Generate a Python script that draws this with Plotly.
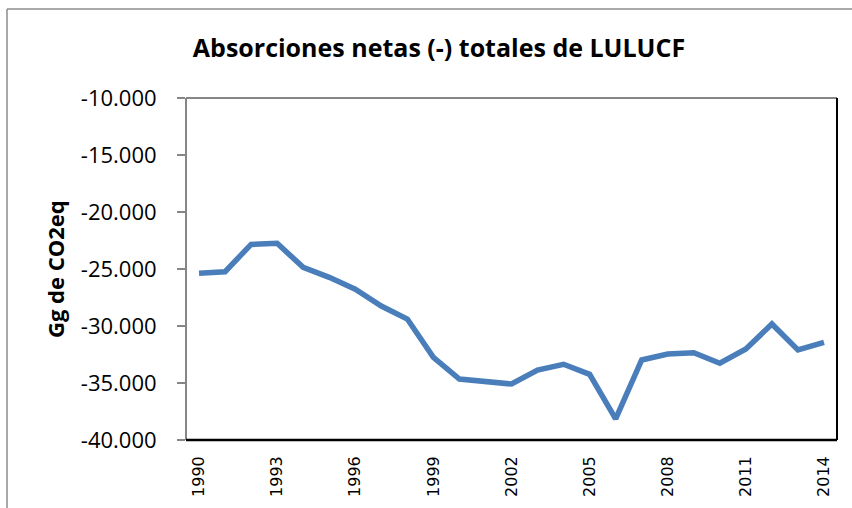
import plotly.graph_objects as go

years = list(range(1990, 2015))
values = [-25380, -25240, -22840, -22750, -24850, -25730, -26780, -28250, -29390,
          -32750, -34650, -34820, -35090, -33860, -33360, -34240, -38150, -32980,
          -32460, -32340, -33270, -32020, -29820, -32100, -31430]
y_ticks = [-40000, -35000, -30000, -25000, -20000, -15000, -10000]
y_ticklabels = ["-40.000", "-35.000", "-30.000", "-25.000", "-20.000", "-15.000", "-10.000"]
x_ticks = list(range(1990, 2015, 3))
x_ticklabels = [str(y) for y in x_ticks]

W, H = 852, 508
L, R, T, B = 186, 15, 98, 68
pw, ph = W - L - R, H - T - B

def px(xp):
    return (xp - L) / pw

def py(yp):
    return (H - B - yp) / ph

fig = go.Figure()
fig.add_trace(go.Scatter(x=years, y=values, mode="lines",
                         line=dict(color="#4a7ebb", width=5.5), showlegend=False))

fig.update_layout(
    width=W, height=H,
    margin=dict(l=L, r=R, t=T, b=B, autoexpand=False),
    paper_bgcolor="white", plot_bgcolor="white",
    title=dict(text="<b>Absorciones netas (-) totales de LULUCF</b>",
               font=dict(family="Open Sans", size=25, color="black"),
               x=439 / W, xanchor="center", xref="container",
               y=1 - 48 / H, yanchor="middle", yref="container"),
    xaxis=dict(range=[1989.5, 2014.5], tickmode="array", tickvals=x_ticks,
               ticktext=x_ticklabels, tickangle=-90, showgrid=False,
               showline=False, ticks="", zeroline=False, automargin=False,
               ticklabelstandoff=12,
               tickfont=dict(family="DejaVu Sans", size=16, color="black")),
    yaxis=dict(range=[-40000, -10000], tickmode="array", tickvals=y_ticks,
               ticktext=y_ticklabels, showgrid=False, showline=False,
               ticks="outside", ticklen=8, tickcolor="#868686", tickwidth=2,
               zeroline=False, automargin=False, ticklabelstandoff=16,
               tickfont=dict(family="Open Sans", size=22, color="black")),
    annotations=[dict(text="<b>Gg de CO2eq</b>", xref="paper", yref="paper",
                      x=px(55), y=0.5, xanchor="center", yanchor="middle",
                      textangle=-90, showarrow=False,
                      font=dict(family="Open Sans", size=22, color="black"))],
)

shapes = []
# plot area border: top/left gray, right/bottom black
shapes.append(dict(type="line", xref="paper", yref="paper", x0=0, x1=1, y0=1, y1=1,
                   line=dict(color="#868686", width=2)))
shapes.append(dict(type="line", xref="paper", yref="paper", x0=0, x1=0, y0=0, y1=1,
                   line=dict(color="#868686", width=2)))
shapes.append(dict(type="line", xref="paper", yref="paper", x0=1, x1=1, y0=0, y1=1,
                   line=dict(color="black", width=2)))
shapes.append(dict(type="line", xref="paper", yref="paper", x0=0, x1=1, y0=0, y1=0,
                   line=dict(color="black", width=2.5)))
# outer chart border (cropped at right and bottom)
shapes.append(dict(type="line", xref="paper", yref="paper", x0=px(7), x1=px(900),
                   y0=py(9), y1=py(9), line=dict(color="#8c8c8c", width=1.5)))
shapes.append(dict(type="line", xref="paper", yref="paper", x0=px(7), x1=px(7),
                   y0=py(9), y1=py(600), line=dict(color="#8c8c8c", width=1.5)))
fig.update_layout(shapes=shapes)

fig.write_html("out.html", config={"displayModeBar": False},
               post_script="document.body.style.margin='0';document.body.style.overflow='hidden';")
